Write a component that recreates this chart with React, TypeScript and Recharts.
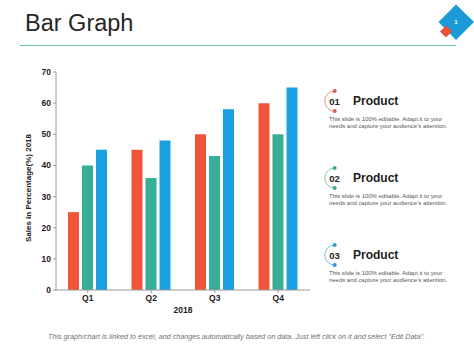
import { BarChart, Bar, XAxis, YAxis, Label } from "recharts"

const quarters = ["Q1", "Q2", "Q3", "Q4"]
const redValues = [25, 45, 50, 60]
const greenValues = [40, 36, 43, 50]
const blueValues = [45, 48, 58, 65]
const yTicks = [0, 10, 20, 30, 40, 50, 60, 70]

const numbers = ["01", "02", "03"]
const accents = ["#d9604f", "#3fa596", "#2a9bd0"]
const descLines = [
  "This slide is 100% editable. Adapt it to your",
  "needs and capture your audience's attention.",
]

const data = quarters.map((q, i) => ({
  name: q,
  red: redValues[i],
  green: greenValues[i],
  blue: blueValues[i],
}))

const font = "'Liberation Sans', Arial, sans-serif"
const tick = { fill: "#222", fontSize: 8.5, fontWeight: 700, fontFamily: font }
const axisLine = { stroke: "#9a9a9a" }

function ProductItem({ index }: { index: number }) {
  const cy = 101 + index * 77
  const color = accents[index]
  return (
    <g fontFamily={font}>
      <path d={`M334.7 ${cy - 10} A 10 10 0 0 0 334.7 ${cy + 10}`} fill="none" stroke={color} strokeWidth={0.8} opacity={0.8} />
      <circle cx={334.7} cy={cy - 10} r={2} fill={color} />
      <circle cx={334.7} cy={cy + 10} r={2} fill={color} />
      <text x={334.5} y={cy + 3.5} textAnchor="middle" fontSize={9.5} fontWeight={700} fill="#222">{numbers[index]}</text>
      <text x={353} y={cy + 4} fontSize={12} fontWeight={700} fill="#222">Product</text>
      {descLines.map((line, i) => (
        <text key={i} x={329} y={cy + 19.5 + i * 7.4} fontSize={5.95} fill="#555">{line}</text>
      ))}
    </g>
  )
}

export default function App() {
  return (
    <div style={{ position: "absolute", left: 0, top: 0, width: 474, height: 355, background: "#fff" }}>
      <svg width={474} height={355} style={{ position: "absolute", left: 0, top: 0 }}>
        <text x={25} y={31} fontFamily={font} fontSize={23.5} fill="#262626">Bar Graph</text>
        <line x1={20} y1={45.5} x2={456} y2={45.5} stroke="#6fc0b5" strokeWidth={1} />
        <polygon points="456,4.5 474,22 456,40 438.5,22" fill="#1b9ad8" />
        <polygon points="446,25.5 452,31.5 446,37.5 440,31.5" fill="#ea5036" />
        <text x={456} y={24} textAnchor="middle" fontFamily={font} fontSize={6} fontWeight={700} fill="#fff">1</text>
        {numbers.map((_, i) => <ProductItem key={i} index={i} />)}
        <text x={48} y={338.5} fontFamily={font} fontSize={7.2} fontStyle="italic" fill="#707070">
          This graph/chart is linked to excel, and changes automatically based on data. Just left click on it and select "Edit Data".
        </text>
      </svg>
      <div style={{ position: "absolute", left: 0, top: 0 }}>
        <BarChart
          width={474}
          height={355}
          data={data}
          barSize={11}
          barGap={3}
          margin={{ top: 72, right: 164, bottom: 35, left: 20 }}
        >
          <XAxis
            dataKey="name"
            height={30}
            axisLine={axisLine}
            tickLine={axisLine}
            tickSize={3}
            tick={tick}
            interval={0}
          >
            <Label value="2018" position="insideBottom" offset={7} style={tick} />
          </XAxis>
          <YAxis
            width={36}
            domain={[0, 70]}
            ticks={yTicks}
            axisLine={axisLine}
            tickLine={axisLine}
            tickSize={3}
            tick={tick}
          >
            <Label
              value="Sales in Percentage(%) 2018"
              angle={-90}
              position={{ x: 11, y: 116 }}
              style={{ ...tick, fontSize: 8, textAnchor: "middle" }}
            />
          </YAxis>
          <Bar dataKey="red" fill="#ef553b" isAnimationActive={false} />
          <Bar dataKey="green" fill="#38ae97" isAnimationActive={false} />
          <Bar dataKey="blue" fill="#1ba1e2" isAnimationActive={false} />
        </BarChart>
      </div>
    </div>
  )
}
